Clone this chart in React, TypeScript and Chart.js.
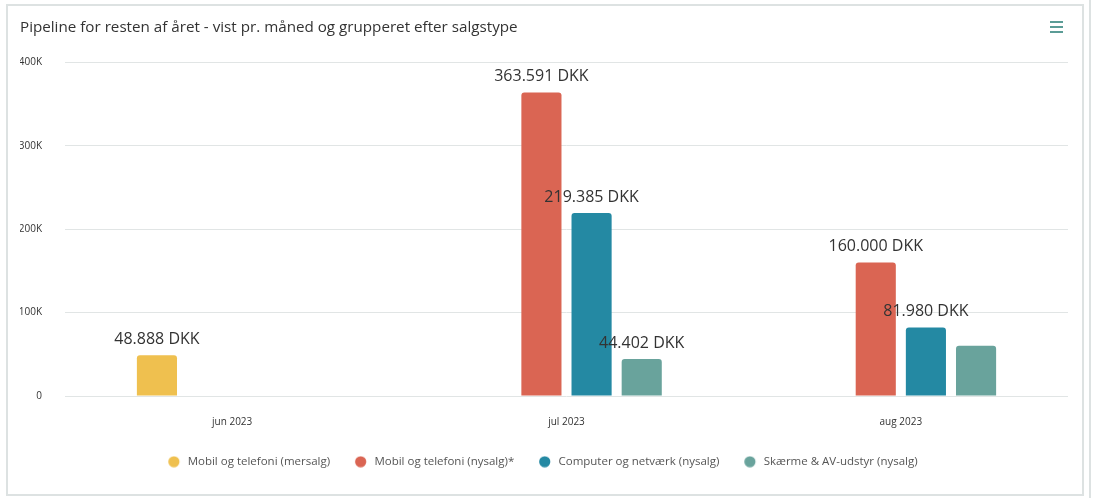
import { useEffect, useRef } from 'react';
import { Chart, registerables } from 'chart.js';

Chart.register(...registerables);

const titleText = 'Pipeline for resten af året - vist pr. måned og grupperet efter salgstype';
const categories = ['jun 2023', 'jul 2023', 'aug 2023'];
const seriesNames = [
  'Mobil og telefoni (mersalg)',
  'Mobil og telefoni (nysalg)*',
  'Computer og netværk (nysalg)',
  'Skærme & AV-udstyr (nysalg)',
];
const mobilMersalg = [48888, null, null];
const mobilNysalg = [null, 363591, 160000];
const computerNysalg = [null, 219385, 81980];
const skaermeNysalg = [null, 44402, 60200];
const seriesColors = ['#EFC04F', '#DA6553', '#2489A3', '#69A39C'];
const yMax = 400000;
const yStep = 100000;

const FONT = '"Open Sans", "Noto Sans", sans-serif';

function fmtDKK(v: number): string {
  return String(Math.round(v)).replace(/\B(?=(\d{3})+(?!\d))/g, '.') + ' DKK';
}

function makeLegendDot(color: string): HTMLCanvasElement {
  const c = document.createElement('canvas');
  c.width = 20;
  c.height = 12;
  const g = c.getContext('2d')!;
  g.fillStyle = color;
  g.beginPath();
  g.arc(7.75, 6, 5.6, 0, Math.PI * 2);
  g.fill();
  return c;
}

const valueLabelPlugin = {
  id: 'valueLabels',
  afterDatasetsDraw(chart: any) {
    const ctx = chart.ctx;
    ctx.save();
    ctx.font = `16px ${FONT}`;
    ctx.fillStyle = '#333333';
    ctx.textAlign = 'center';
    ctx.textBaseline = 'middle';
    const placed: { l: number; r: number; t: number; b: number }[] = [];
    chart.data.datasets.forEach((ds: any, di: number) => {
      const meta = chart.getDatasetMeta(di);
      meta.data.forEach((bar: any, i: number) => {
        const v = ds.data[i];
        if (v == null) return;
        const text = fmtDKK(v);
        const w = ctx.measureText(text).width;
        const x = bar.x;
        const y = bar.y - 16;
        const box = { l: x - w / 2, r: x + w / 2, t: y - 10, b: y + 10 };
        if (placed.some((p) => box.l < p.r && box.r > p.l && box.t < p.b && box.b > p.t)) return;
        placed.push(box);
        ctx.fillText(text, x, y);
      });
    });
    ctx.restore();
  },
};

export default function App() {
  const ref = useRef<HTMLCanvasElement>(null);

  useEffect(() => {
    if (!ref.current) return;
    const seriesData = [mobilMersalg, mobilNysalg, computerNysalg, skaermeNysalg];
    const dots = seriesColors.map(makeLegendDot);
    const chart = new Chart(ref.current, {
      type: 'bar',
      data: {
        labels: categories,
        datasets: seriesNames.map((name, i) => ({
          label: name,
          data: seriesData[i] as any,
          backgroundColor: seriesColors[i],
          borderColor: seriesColors[i],
          borderWidth: 0,
          borderRadius: { topLeft: 3, topRight: 3, bottomLeft: 0, bottomRight: 0 },
          borderSkipped: 'bottom',
          categoryPercentage: 0.6,
          barPercentage: 0.8,
          pointStyle: dots[i] as any,
        })),
      },
      options: {
        responsive: false,
        animation: false,
        layout: { padding: { left: 20, right: 26, top: 0, bottom: 20.5 } },
        plugins: {
          title: {
            display: true,
            text: titleText,
            align: 'start',
            color: '#333333',
            font: { family: FONT, size: 15.2, weight: 'normal' },
            padding: { top: 19, bottom: 25 },
          },
          legend: {
            position: 'bottom',
            labels: {
              usePointStyle: true,
              boxWidth: 11.5,
              boxHeight: 11.5,
              padding: 27,
              color: '#555555',
              font: { family: FONT, size: 11.5 },
            },
          },
          tooltip: { enabled: false },
        },
        scales: {
          x: {
            grid: { display: false, drawTicks: false },
            border: { display: false },
            ticks: {
              color: '#333333',
              font: { family: FONT, size: 10 },
              padding: 20,
            },
            afterFit: (scale: any) => {
              scale.height = 33;
            },
          },
          y: {
            min: 0,
            max: yMax,
            grid: { color: '#e1e5e5', drawTicks: false, lineWidth: 1 },
            border: { display: false },
            ticks: {
              stepSize: yStep,
              color: '#333333',
              padding: 23,
              font: { family: FONT, size: 10 },
              callback: (v: any) => (v === 0 ? '0' : `${v / 1000}K`),
            },
            afterFit: (scale: any) => {
              scale.width = 45;
            },
          },
        },
      },
      plugins: [valueLabelPlugin],
    });
    return () => chart.destroy();
  }, []);

  return (
    <div style={{ position: 'absolute', left: 0, top: 0, width: 1094, height: 498, background: '#fff' }}>
      <div
        style={{
          position: 'absolute',
          left: 6,
          top: 4,
          width: 1078,
          height: 492,
          boxSizing: 'border-box',
          border: '2px solid #dde2e2',
        }}
      />
      <div style={{ position: 'absolute', left: 1089, top: 0, width: 2, height: 498, background: '#dde2e2' }} />
      <canvas
        ref={ref}
        width={1094}
        height={498}
        style={{ position: 'absolute', left: 0, top: 0, width: 1094, height: 498, display: 'block' }}
      />
      <div style={{ position: 'absolute', left: 1050, top: 21, width: 13 }}>
        {[0, 1, 2].map((k) => (
          <div key={k} style={{ height: 2, background: '#5b9c96', marginBottom: k < 2 ? 3 : 0 }} />
        ))}
      </div>
    </div>
  );
}
